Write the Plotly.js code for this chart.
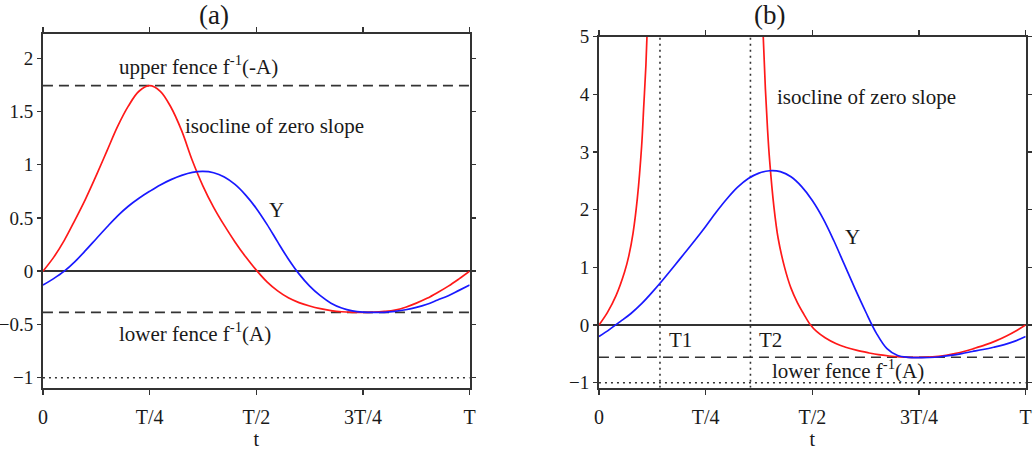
<!DOCTYPE html>
<html>
<head>
<meta charset="utf-8">
<script src="https://cdn.plot.ly/plotly-3.0.1.min.js"></script>
<style>html,body{margin:0;padding:0;background:#fff;}#chart{width:1035px;height:456px;}</style>
</head>
<body>
<div id="chart"></div>
<script>
// ---- tick labels ----
const tickVals = [0, 0.25, 0.5, 0.75, 1];
const tickText = ["0", "T/4", "T/2", "3T/4", "T"];

// ---- panel (a) ----
const tA = [0, 0.025, 0.05, 0.075, 0.1, 0.125, 0.15, 0.175, 0.2, 0.225, 0.25, 0.275, 0.3, 0.325, 0.35, 0.375, 0.4, 0.425, 0.45, 0.475, 0.5,
            0.525, 0.55, 0.575, 0.6, 0.625, 0.65, 0.675, 0.7, 0.725, 0.75, 0.775, 0.8, 0.825, 0.85, 0.875, 0.9, 0.925, 0.95, 0.975, 1.0];
const isoA = [0, 0.13, 0.29, 0.48, 0.68, 0.9, 1.13, 1.36, 1.55, 1.69, 1.743, 1.69, 1.54, 1.32, 1.04, 0.8, 0.6, 0.43, 0.275, 0.135, 0.01,
              -0.1, -0.185, -0.25, -0.295, -0.327, -0.352, -0.37, -0.381, -0.386, -0.387, -0.385, -0.378, -0.365, -0.338, -0.3, -0.255, -0.2, -0.14, -0.072, 0];
const yA = [-0.13, -0.07, 0.0, 0.09, 0.195, 0.305, 0.415, 0.52, 0.61, 0.685, 0.75, 0.81, 0.86, 0.9, 0.928, 0.937, 0.925, 0.885, 0.815, 0.715, 0.59,
            0.44, 0.275, 0.115, -0.025, -0.14, -0.23, -0.3, -0.345, -0.372, -0.384, -0.387, -0.386, -0.377, -0.362, -0.34, -0.31, -0.27, -0.23, -0.18, -0.13];
const upperFenceA = 1.743;
const lowerFenceA = -0.387;
const floorA = -1;

// ---- panel (b) ----
const tB = [0, 0.025, 0.05, 0.075, 0.1, 0.125, 0.15, 0.175, 0.2, 0.225, 0.25, 0.275, 0.3, 0.325, 0.35, 0.375, 0.4, 0.425, 0.45, 0.475, 0.5,
            0.525, 0.55, 0.575, 0.6, 0.625, 0.65, 0.675, 0.7, 0.725, 0.75, 0.775, 0.8, 0.825, 0.85, 0.875, 0.9, 0.925, 0.95, 0.975, 1.0];
const yB = [-0.2, -0.075, 0.06, 0.2, 0.37, 0.57, 0.785, 1.01, 1.24, 1.47, 1.71, 1.96, 2.19, 2.39, 2.54, 2.635, 2.675, 2.66, 2.57, 2.4, 2.16,
            1.85, 1.47, 1.05, 0.63, 0.23, -0.14, -0.41, -0.53, -0.56, -0.565, -0.563, -0.55, -0.525, -0.495, -0.46, -0.425, -0.385, -0.34, -0.28, -0.2];
const tIsoB1 = [0, 0.02, 0.04, 0.06, 0.07, 0.08, 0.09, 0.1, 0.105, 0.11, 0.115, 0.12];
const isoB1 = [0, 0.22, 0.51, 0.92, 1.2, 1.6, 2.2, 3.1, 3.8, 4.5, 5.5, 7.0];
const tIsoB2 = [0.38, 0.385, 0.39, 0.395, 0.4, 0.41, 0.42, 0.435, 0.45, 0.465, 0.48, 0.495, 0.51, 0.53, 0.555, 0.58, 0.605, 0.63, 0.655, 0.68,
                0.705, 0.73, 0.755, 0.78, 0.805, 0.83, 0.855, 0.88, 0.905, 0.93, 0.955, 0.98, 1.0];
const isoB2 = [6.2, 5.0, 4.1, 3.4, 2.85, 2.05, 1.5, 1.0, 0.64, 0.39, 0.19, 0.01, -0.11, -0.22, -0.32, -0.39, -0.44, -0.48, -0.515, -0.537,
               -0.552, -0.56, -0.561, -0.552, -0.535, -0.5, -0.46, -0.405, -0.345, -0.275, -0.19, -0.09, 0];
const lowerFenceB = -0.56;
const floorB = -1;
const T1 = 0.143, T2 = 0.355;

const RED = "rgb(255,25,25)", BLUE = "rgb(25,25,255)", INK = "#333";
const FONT = "Liberation Serif, Times New Roman, serif";
const TXT = "#1a1a1a";

function hline(xa, ya, v, dash) {
  return {x: [0, 1], y: [v, v], xaxis: xa, yaxis: ya, mode: "lines", hoverinfo: "skip",
          line: {color: INK, width: 1.6, dash: dash}, showlegend: false};
}
function vline(xa, ya, v, dash) {
  return {x: [v, v], y: [-1.087, 5], xaxis: xa, yaxis: ya, mode: "lines", hoverinfo: "skip",
          line: {color: INK, width: 1.6, dash: dash}, showlegend: false};
}
function curve(xa, ya, x, y, color) {
  return {x: x, y: y, xaxis: xa, yaxis: ya, mode: "lines", showlegend: false,
          line: {color: color, width: 1.7, shape: "spline", smoothing: 1}};
}

const traces = [
  hline("x", "y", upperFenceA, "10px,6px"),
  hline("x", "y", lowerFenceA, "10px,6px"),
  hline("x", "y", floorA, "2px,4px"),
  curve("x", "y", tA, isoA, RED),
  curve("x", "y", tA, yA, BLUE),
  hline("x2", "y2", lowerFenceB, "10px,6px"),
  hline("x2", "y2", floorB, "2px,4px"),
  vline("x2", "y2", T1, "2px,4px"),
  vline("x2", "y2", T2, "2px,4px"),
  curve("x2", "y2", tIsoB1, isoB1, RED),
  curve("x2", "y2", tIsoB2, isoB2, RED),
  curve("x2", "y2", tB, yB, BLUE)
];

function xax(domain, anchor) {
  return {domain: domain, anchor: anchor, range: [0, 1], tickmode: "array", tickvals: tickVals, ticktext: tickText,
          ticks: "outside", ticklen: 5, tickwidth: 1.5, tickcolor: INK, showline: true, linecolor: INK, linewidth: 2,
          mirror: "ticks", showgrid: false, zeroline: false, ticklabelstandoff: 5,
          tickfont: {family: FONT, size: 20, color: TXT},
          title: {text: "t", font: {family: FONT, size: 20, color: TXT}, standoff: 0}, automargin: false};
}
function yax(domain, anchor, range, dtick) {
  return {domain: domain, anchor: anchor, range: range, dtick: dtick, tick0: 0,
          ticks: "outside", ticklen: 4, tickwidth: 1.5, tickcolor: INK, showline: true, linecolor: INK, linewidth: 2,
          mirror: "ticks", showgrid: false, zeroline: true, zerolinecolor: INK, zerolinewidth: 2,
          tickfont: {family: FONT, size: 19, color: TXT}, automargin: false};
}

const ann = (xr, yr, x, y, text, xanchor, size) => ({xref: xr, yref: yr, x: x, y: y, text: text, showarrow: false,
  xanchor: xanchor, yanchor: "middle", font: {family: FONT, size: size || 21, color: TXT}});

const layout = {
  width: 1035, height: 456, margin: {l: 0, r: 0, t: 0, b: 0},
  paper_bgcolor: "#fff", plot_bgcolor: "#fff", showlegend: false,
  xaxis: xax([0.0415, 0.4538], "y"),
  yaxis: yax([0.1498, 0.9248], "x", [-1.094, 2.225], 0.5),
  xaxis2: xax([0.5787, 0.9910], "y2"),
  yaxis2: yax([0.1498, 0.9195], "x2", [-1.087, 5], 1),
  annotations: [
    ann("x", "paper", 0.40, 0.967, "(a)", "center", 27),
    ann("x2", "paper", 0.40, 0.967, "(b)", "center", 27),
    ann("x", "y", 0.173, 1.93, "upper fence f<sup>-1</sup>(-A)", "left"),
    ann("x", "y", 0.328, 1.368, "isocline of zero slope", "left"),
    ann("x", "y", 0.548, 0.572, "Y", "center"),
    ann("x", "y", 0.173, -0.58, "lower fence f<sup>-1</sup>(A)", "left"),
    ann("x2", "y2", 0.4125, 3.96, "isocline of zero slope", "left"),
    ann("x2", "y2", 0.595, 1.53, "Y", "center"),
    ann("x2", "y2", 0.159, -0.26, "T1", "left"),
    ann("x2", "y2", 0.37, -0.26, "T2", "left"),
    ann("x2", "y2", 0.40, -0.78, "lower fence f<sup>-1</sup>(A)", "left")
  ]
};

Plotly.newPlot("chart", traces, layout, {staticPlot: true, displayModeBar: false});
</script>
</body>
</html>
